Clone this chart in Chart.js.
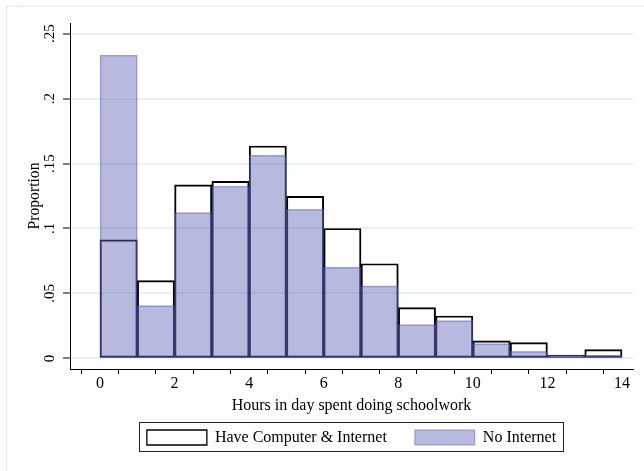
<!DOCTYPE html>
<html>
<head>
<meta charset="utf-8">
<script src="https://cdn.jsdelivr.net/npm/chart.js@4.4.1/dist/chart.umd.min.js"></script>
<style>
  html, body { margin: 0; padding: 0; background: #ffffff; }
  #wrap { position: relative; width: 644px; height: 471px; }
</style>
</head>
<body>
<div id="wrap"><canvas id="c" width="644" height="471"></canvas></div>
<script>
// ---- data ----
const binStarts = [0, 1, 2, 3, 4, 5, 6, 7, 8, 9, 10, 11, 12, 13];
const haveInternet = [0.0912, 0.0599, 0.1335, 0.1363, 0.1635, 0.1248, 0.1000, 0.0729, 0.0391, 0.0327, 0.0135, 0.0122, 0.0027, 0.0068];
const noInternet   = [0.2335, 0.0406, 0.1122, 0.1327, 0.1565, 0.1148, 0.0703, 0.0558, 0.0260, 0.0291, 0.0114, 0.0055, 0.0025, 0.0027];
const seriesNames = ['Have Computer & Internet', 'No Internet'];
const xTickValues = [0, 1, 2, 3, 4, 5, 6, 7, 8, 9, 10, 11, 12, 13, 14];
const xTickLabels = ['0', '', '2', '', '4', '', '6', '', '8', '', '10', '', '12', '', '14'];
const yTickValues = [0, 0.05, 0.1, 0.15, 0.2, 0.25];
const yTickLabels = ['0', '.05', '.1', '.15', '.2', '.25'];
const xTitle = 'Hours in day spent doing schoolwork';
const yTitle = 'Proportion';

const serif = "'Liberation Serif', 'Times New Roman', Times, serif";
const toPoints = vals => vals.map((v, i) => ({ x: binStarts[i] + 0.5, y: v }));

const framePlugin = {
  id: 'stataFrame',
  beforeDraw(chart) {
    const ctx = chart.ctx;
    ctx.save();
    ctx.fillStyle = '#ffffff';
    ctx.fillRect(0, 0, chart.width, chart.height);
    ctx.strokeStyle = '#e6edf2';
    ctx.lineWidth = 1.5;
    ctx.beginPath();
    ctx.moveTo(6.5, chart.height);
    ctx.lineTo(6.5, 6.5);
    ctx.lineTo(chart.width, 6.5);
    ctx.stroke();
    ctx.restore();
  },
  afterLayout(chart) {
    // centre the legend under the plot region (Stata style)
    const lg = chart.legend;
    if (!lg) return;
    const shift = ((chart.chartArea.left + chart.chartArea.right) - (lg.left + lg.right)) / 2;
    lg.left += shift;
    lg.right += shift;
  },
  afterDraw(chart) {
    const lg = chart.legend;
    if (!lg || !lg.lineWidths) return;
    const pad = lg.options.labels.padding;
    const startX = (lg.left + pad + lg.right - lg.lineWidths[0]) / 2;
    const endX = startX + lg.lineWidths[0] - pad;
    const itemY = lg.top + pad;
    const ctx = chart.ctx;
    ctx.save();
    ctx.strokeStyle = '#222222';
    ctx.lineWidth = 1;
    ctx.strokeRect(Math.round(startX - 7.5) + 0.5, Math.round(itemY - 7.5) + 0.5, Math.round(endX - startX + 15), 29);
    ctx.restore();
  }
};

new Chart(document.getElementById('c'), {
  type: 'bar',
  data: {
    datasets: [
      {
        label: seriesNames[0],
        data: toPoints(haveInternet),
        backgroundColor: 'rgba(255,255,255,0)',
        borderColor: '#000000',
        borderWidth: 1.3,
        borderSkipped: false,
        order: 1
      },
      {
        label: seriesNames[1],
        data: toPoints(noInternet),
        backgroundColor: 'rgba(90,97,180,0.44)',
        borderColor: 'rgba(80,88,175,0.5)',
        borderWidth: 1,
        borderSkipped: false,
        order: 0
      }
    ]
  },
  options: {
    responsive: false,
    animation: false,
    devicePixelRatio: 1,
    events: [],
    grouped: false,
    barPercentage: 1,
    categoryPercentage: 1,
    layout: { padding: { top: 23, right: 11, left: 0, bottom: 15.5 } },
    plugins: {
      tooltip: { enabled: false },
      title: { display: false },
      legend: {
        display: true,
        position: 'bottom',
        align: 'center',
        labels: {
          boxWidth: 60,
          boxHeight: 15,
          padding: 28,
          color: '#000000',
          font: { family: serif, size: 16 },
          sort: (a, b) => a.datasetIndex - b.datasetIndex
        }
      }
    },
    scales: {
      x: {
        type: 'linear',
        min: -0.805,
        max: 14.295,
        offset: false,
        afterBuildTicks: s => { s.ticks = xTickValues.map(v => ({ value: v })); },
        afterFit: s => { s.height = 32.5; },
        ticks: {
          autoSkip: false,
          maxRotation: 0,
          minRotation: 0,
          padding: 0,
          color: '#000000',
          font: { family: serif, size: 16 },
          callback: (v) => { const i = xTickValues.indexOf(v); return i >= 0 ? xTickLabels[i] : ''; }
        },
        grid: {
          display: true,
          drawOnChartArea: false,
          drawTicks: true,
          tickLength: 5,
          tickColor: '#000000',
          tickWidth: 1
        },
        border: { display: true, color: '#000000', width: 1 },
        title: {
          display: true,
          text: xTitle,
          color: '#000000',
          font: { family: serif, size: 16 },
          padding: { top: 0, bottom: -13.5 }
        }
      },
      y: {
        type: 'linear',
        min: -0.0081,
        max: 0.2581,
        afterBuildTicks: s => { s.ticks = yTickValues.map(v => ({ value: v })); },
        afterFit: s => { s.width = 70; },
        ticks: {
          autoSkip: false,
          minRotation: 90,
          maxRotation: 90,
          crossAlign: 'center',
          padding: 4,
          color: '#000000',
          font: { family: serif, size: 15 },
          callback: (v) => {
            const i = yTickValues.findIndex(t => Math.abs(t - v) < 1e-9);
            return i >= 0 ? yTickLabels[i] : '';
          }
        },
        grid: {
          display: true,
          drawOnChartArea: true,
          color: '#eaf0f3',
          lineWidth: 2,
          drawTicks: true,
          tickLength: 7,
          tickColor: '#000000',
          tickWidth: 1
        },
        border: { display: true, color: '#000000', width: 1 },
        title: {
          display: true,
          text: yTitle,
          color: '#000000',
          font: { family: serif, size: 15.7 },
          padding: { top: 25, bottom: 0 }
        }
      }
    }
  },
  plugins: [framePlugin]
});
</script>
</body>
</html>
